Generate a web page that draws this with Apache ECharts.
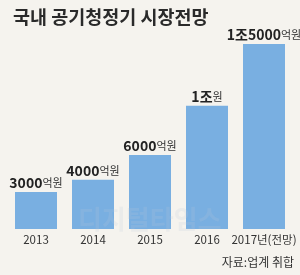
<!DOCTYPE html>
<html><head><meta charset="utf-8">
<script src="https://cdn.jsdelivr.net/npm/echarts@6/dist/echarts.min.js"></script>
<style>html,body{margin:0;padding:0;background:#f5f3ee;}#c{width:300px;height:275px;}</style>
</head><body><div id="c"></div>
<script>
const categories = ['2013', '2014', '2015', '2016', '2017년(전망)'];
const values = [3000, 4000, 6000, 10000, 15000];
const valueLabels = [['3000', '억원'], ['4000', '억원'], ['6000', '억원'], ['1조', '원'], ['1조5000', '억원']];
const titleText = '국내 공기청정기 시장전망';
const sourceText = '자료:업계 취합';

const chart = echarts.init(document.getElementById('c'));
const F = '"Noto Sans CJK KR", "Noto Sans", sans-serif';
chart.setOption({
  backgroundColor: '#f5f3ee',
  animation: false,
  title: {
    text: titleText, left: 8, top: 3,
    textStyle: { fontFamily: F, fontSize: 18.5, fontWeight: 'bold', color: '#2a2a2a' }
  },
  graphic: [
    { type: 'text', right: 6, top: 256, style: { text: sourceText, font: '12px ' + F, fill: '#333' } },
    { type: 'text', left: 78, top: 206, z: 10, style: { text: '디지털타임스', font: 'bold 26px ' + F, fill: 'rgba(190,200,215,0.18)' } }
  ],
  grid: { left: 7.5, right: 7.5, top: 7, bottom: 46 },
  xAxis: {
    type: 'category', data: categories,
    axisLine: { show: false }, axisTick: { show: false },
    axisLabel: { interval: 0, margin: 5, fontFamily: F, fontSize: 11.5, color: '#333' }
  },
  yAxis: { type: 'value', min: 0, max: 18000, show: false, splitLine: { show: false } },
  series: [{
    type: 'bar', barWidth: 42,
    data: values,
    itemStyle: { color: '#79afe1' },
    label: {
      show: true, position: 'top', distance: 2,
      formatter: p => '{n|' + valueLabels[p.dataIndex][0] + '}{u|' + valueLabels[p.dataIndex][1] + '}',
      rich: {
        n: { fontFamily: F, fontSize: 14, fontWeight: 'bold', color: '#222' },
        u: { fontFamily: F, fontSize: 11, color: '#333' }
      }
    }
  }]
});
</script></body></html>
